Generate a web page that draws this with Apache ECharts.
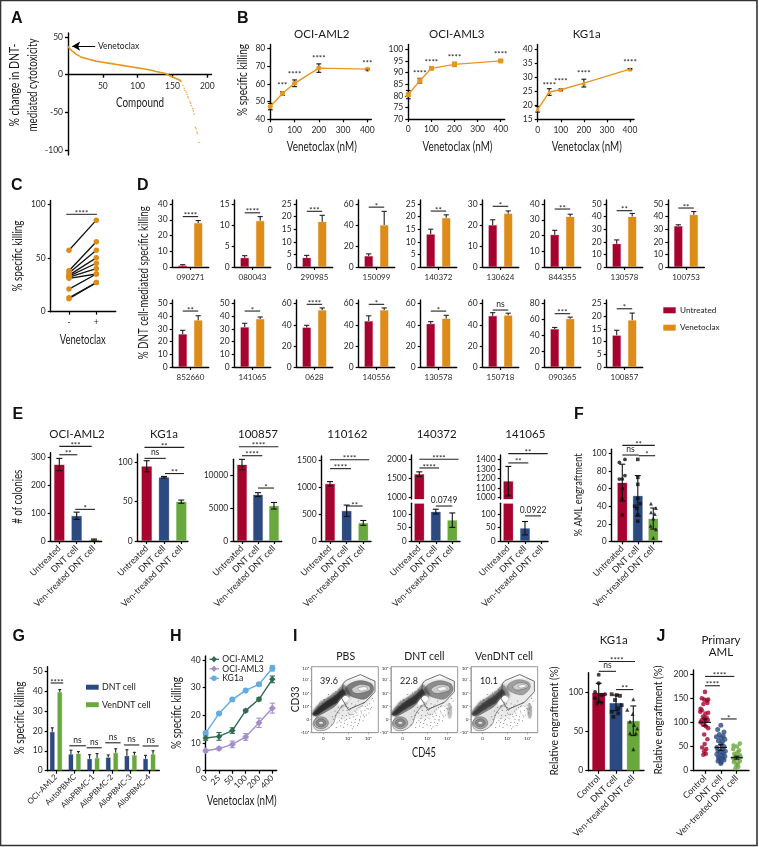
<!DOCTYPE html>
<html><head><meta charset="utf-8"><style>html,body{margin:0;padding:0;background:#fff}#c{width:759px;height:847px}</style>
<script src="https://cdn.jsdelivr.net/npm/echarts@6/dist/echarts.min.js"></script></head><body><div id="c"></div>
<script>
// ---------- data ----------
const A_compound=[0,2,5,8,12,16,20,30,40,50,60,70,80,90,100,110,120,125,130,135,140,145,150,155,160,163];
const A_change=[38,35,32,30,27,25,23,20.5,18,16.5,15,13.5,12,10.5,9,7.5,6,4.5,3.5,2.5,1.5,-1,-3,-5,-7,-9];
const A_tail_x=[165,167,168,170,171,172,173,175,176,177,179,180,181,183,184,185,186,188];
const A_tail_y=[-14,-18,-21,-23,-26,-29,-31,-36,-38,-41,-45,-48,-52,-70,-72,-76,-78,-90];
const B_doses=[0,50,100,200,400];
const B_aml2=[47.2,54.6,60.4,69,68.4], B_aml2_err=[1.8,1,1.9,2.4,.3];
const B_aml3=[80.5,86.5,91.8,93.5,95], B_aml3_err=[1.8,1,.3,.9,.3];
const B_kg1a=[18.6,24.8,25.6,28,33], B_kg1a_err=[1,1.2,.3,1.4,.2];
const C_minus=[57,38,36,34,33,32,31,21,13,12];
const C_plus=[85,65,57,50,45,40,35,35,27,27];
const D_row1_ids=['090271','080043','290985','150099','140372','130624','844355','130578','100753'];
const D_row1_ut=[1,2.2,3.7,10.5,13,20,20.5,18.5,32.5], D_row1_ut_err=[.5,.5,.9,2,2,2.5,2.8,3,1];
const D_row1_ve=[28,11,18,40,19.5,25.5,32,40,41.5], D_row1_ve_err=[1.5,1,2.5,13,1.2,1.2,1.5,2.5,2.5];
const D_row1_sig=['****','****','***','*','**','*','**','**','**'], D_row1_sigy=[32,12.9,22.1,57,22.2,28.9,36.8,44.7,46.8];
const D_row1_ticks=[40,15,25,60,25,30,40,50,50], D_row1_step=[10,5,5,20,5,10,10,10,10];
const D_row2_ids=['852660','141065','0628','140556','130578','150718','090365','100857'];
const D_row2_ut=[26,31.5,37.5,43.5,41,48.5,48,12.5], D_row2_ut_err=[3,3,2,5,2,3,2,2];
const D_row2_ve=[37,38,54,54,46,49,61,18.5], D_row2_ve_err=[3.5,1.5,2,2,3,2,2,2.8];
const D_row2_sig=['**','*','****','*','*','ns','***','*'], D_row2_sigy=[44.2,44.2,59.4,59.4,53,54,67.4,23];
const D_row2_ticks=[50,50,60,60,60,60,80,25], D_row2_step=[10,10,20,20,20,20,20,5];
const E_groups=['Untreated','DNT cell','Ven-treated DNT cell'];
const E_titles=['OCI-AML2','KG1a','100857','110162','140372','141065'];
const E_aml2=[273,90,5], E_aml2_err=[22,13,2];
const E_kg1a=[95,81,50], E_kg1a_err=[7,1,2];
const E_100857=[11700,7100,5400], E_100857_err=[800,300,500];
const E_110162=[1060,560,335], E_110162_err=[40,105,45];
const E_140372=[1610,110,78], E_140372_err=[60,9,27];
const E_141065=[1170,48,0], E_141065_err=[155,25,0];
const F_means=[67,52,26], F_err=[21,23,12];
const F_ut_y=[90,93.5,71,71,75,60,48,30], F_ut_x=[-.19,.17,-.19,0,.17,0,-.02,0];
const F_dn_y=[93.5,73,65,49,40,43,37.6,30,23], F_dn_x=[0,0,0,0,-.2,.15,-.06,0,0];
const F_ve_y=[43,33,38,26,17.5,13.7,4,31], F_ve_x=[-.15,-.15,.17,0,-.17,.17,0,.1];
const G_cats=['OCI-AML2','AutoPBMC','AlloPBMC-1','AlloPBMC-2','AlloPBMC-3','AlloPBMC-4'];
const G_dnt=[19.5,8.3,6,6.7,7.5,6], G_dnt_err=[2,2,2,1.2,3,1.7];
const G_ven=[39.5,8.6,6.4,9,7.8,8.3], G_ven_err=[1.2,1,2.2,2,1.4,1.7];
const H_doses=['0','25','50','100','200','400'];
const H_aml2=[11.8,12.4,14.5,21.7,25.8,33], H_aml2_err=[.8,1.4,1,.5,.6,1.2];
const H_aml3=[7.2,8,9.5,12.2,17.3,22.6], H_aml3_err=[.5,.5,1.2,1.2,1.7,1.8];
const H_kg1a=[13.6,20.7,25.7,29,31.2,37], H_kg1a_err=[.5,.3,.3,.2,.5,1];
const I_groups=['Control','DNT cell','Ven-treated DNT cell'];
const I_means=[100,87,64], I_err=[12,10,19];
const I_ct_y=[123,112,101,97,98,93,88.5,87,86], I_ct_x=[0,0,-.21,.17,.37,-.21,0,.17,-.1];
const I_dn_y=[98,97,96,90.6,84,80,75.6,69,73.5], I_dn_x=[-.25,.04,.23,-.06,.33,.13,-.25,-.15,.13];
const I_ve_y=[91.5,78,72.6,63,58.5,54,48,48,27.4], I_ve_x=[0,-.35,-.04,-.19,.04,.23,-.19,.15,0];
const J_groups=['Control','DNT cell','Ven-treated DNT cell'];
const J_means=[100,48,27], J_err=[7,6,3];
const J_ct_y=[163,150,147,147,145,140,138,128,125,122,120,118,112,110,108,105,104,102,100,95,92,88,75,65,55,48,45,40,35,33];
const J_ct_x=[0,-.2,-.05,.2,.12,.15,-.1,-.28,-.2,-.3,.2,.02,-.12,.1,-.05,.18,-.22,.02,-.28,-.12,.05,.2,-.05,.15,-.02,-.18,.08,-.05,.05,-.1];
const J_dn_y=[94,85,80,75,72,70,68,65,62,60,55,50,48,45,42,40,38,36,34,32,30,28,26,24,22,20,18,15];
const J_dn_x=[0,-.2,.2,-.1,.15,-.28,.02,.25,-.15,.1,0,.2,-.25,.12,-.18,.28,-.05,.15,-.25,.05,.25,-.15,.12,-.08,.2,-.18,.02,0];
const J_ve_y=[56,52,50,45,42,38,35,32,30,28,26,25,22,20,18,15,12,8,5];
const J_ve_x=[.2,-.2,.02,-.22,.15,.05,-.15,.2,-.05,.25,-.22,.08,-.12,.2,-.18,.08,-.02,.1,-.08];
// flow-cytometry contour shapes, in percent of each plot frame
const I_titles=['PBS','DNT cell','VenDNT cell'], I_pct=['39.6','22.8','10.1'];
const F_xticks=[17.5,55,85], F_xlabels=['0','10³','10⁵'];
const F_yticks=[0,20,40,60,80,98], F_ylabels=['-10²','0','10²','10³','10⁴','10⁵'];
const Flow_gate=[[47,74],[51,79],[73,88],[95,78],[95,62],[80,46],[55,35],[45,52]];
const Flow_haze=[[2,30],[12,44],[25,54],[38,64],[50,78],[92,80],[90,50],[72,36],[55,22],[42,20],[30,26],[12,30]];
const Flow_wide=[[1,30],[12,45],[26,55],[38,63],[48,73],[58,58],[50,42],[38,35],[24,31],[8,24]];
const Flow_band=[[1,28],[20,46],[35,56],[47,66],[52,54],[40,46],[30,41],[17,33],[7,26]];
const Flow_drop=[[2,13],[7,23],[20,31],[32,38],[42,46],[45,41],[37,28],[32,13],[20,4],[7,4]];
const Flow_wedge=[[40,44],[50,56],[56,52],[48,43]];
const Flow_upper=[[50,66],[57,74],[73,79],[90,74],[93,64],[80,51],[65,53],[55,58]];
const Flow_mid=[[60,66],[72,73],[86,71],[88,65],[75,60],[65,60]];
const Flow_core=[[69,67],[80,70],[84,66],[74,63]];
const Flow_rings=[[14,15,11,9,'#a8a8a8'],[14,15,7.5,6,'#8a8a8a'],[14,15,3.5,2.5,'#e0e0e0']];
const Flow_dark=[.72,.62,.5], Flow_side=[0,.22,.28];
const Flow_specks_x=[30,33,36,38,41,43,45,47,50,52,54,55,57,58,60,62,63,65,66,68,70,71,73,75,77,80,82,35,40,44,48,51,56,59,61,64,67,69,72,76,79,84,86,90,93,28,24,20,15,10,8,6,12,18,26,34,42,46,53,88,31,37,39,42,46,49,52,53,57,59,61,65,68,72,74,78,81,85,34,38,43,47,50,55,60,63,66,70,74,78,83,87,91,22,16,11,5,3,9,14,19,25,29,32,36,41];
const Flow_specks_y=[12,20,26,15,30,10,22,34,18,26,12,30,22,36,16,28,9,33,20,26,14,38,24,30,18,34,27,33,38,16,8,40,34,28,6,40,30,11,20,41,24,42,30,38,48,44,48,42,38,33,30,32,45,50,52,56,58,62,44,36,24,8,31,18,26,14,20,34,28,11,38,16,36,18,33,27,40,36,48,52,54,60,46,38,44,24,42,48,40,45,37,44,52,36,44,40,30,27,38,48,50,58,50,60,62,66];
// ---------- layout helpers ----------
const INK='#1a1a1a', RED='#a6032f', ORANGE='#dd8c18', LINE='#e8961e', BLUE='#2c4a80', GREEN='#69a83d', F='Lato', N='Lato';
const grids=[],xAxes=[],yAxes=[],series=[],graphic=[];
const meas=document.createElement('canvas').getContext('2d');
function T(text,x,y,o={}){const size=o.size||9,fam=o.fam||F,w=o.w;const font=(o.weight||'normal')+' '+size+'px '+fam;meas.font=font;
 const sx=w?w/meas.measureText(text).width:1;
 graphic.push({type:'text',x,y,rotation:o.rot?Math.PI/2:0,scaleX:sx,silent:true,z:20,style:{text,x:0,y:0,align:o.align||'center',verticalAlign:'middle',font,fill:o.color||INK}});}
function rectG(x,y,w,h,c){graphic.push({type:'rect',silent:true,z:20,shape:{x,y,width:w,height:h},style:{fill:c}});}
function cal(c,a,b){const m=(c[2]-c[0])/(c[3]-c[1]);return [c[0]+(a-c[1])*m,c[0]+(b-c[1])*m];}
function axisOf(o){return {type:'value',gridIndex:o.i,min:o.range[0],max:o.range[1],position:o.pos,scale:true,offset:o.offset||0,
 axisLine:{show:o.line!==false,onZero:false,lineStyle:{color:o.color||'#000',width:o.lw||1.4}},
 axisTick:{show:o.line!==false,customValues:o.ticks,length:o.tl||3,inside:false,lineStyle:{color:o.color||'#000',width:o.lw||1.2}},
 splitLine:{show:false},
 axisLabel:{show:o.line!==false,customValues:o.ticks,hideOverlap:false,rotate:o.rotate||0,margin:o.margin||5,fontSize:o.fs||8.5,color:o.lc||'#2a2a2a',fontFamily:F,
  formatter:v=>{if(!o.labels)return String(v);let k=0;o.ticks.forEach((t,j)=>{if(Math.abs(t-v)<Math.abs(o.ticks[k]-v))k=j;});return o.labels[k];}}};}
function panel(c){const i=grids.length;grids.push({left:c.l,top:c.t,width:c.r-c.l,height:c.b-c.t,show:!!c.frame,borderColor:'#999',borderWidth:1,backgroundColor:'transparent'});
 xAxes.push(axisOf({i,pos:'bottom',range:cal(c.xc,c.l,c.r),ticks:c.xt,labels:c.xl,rotate:c.rot,line:c.hideX?false:true,offset:c.xoff,margin:c.xm,fs:c.xf,lw:c.lw,color:c.ac,tl:c.tl}));
 yAxes.push(axisOf({i,pos:'left',range:cal(c.yc,c.b,c.t),ticks:c.yt,labels:c.yl,margin:c.ym,fs:c.yf,lw:c.lw,color:c.ac,tl:c.tl}));return i;}
const on=i=>({xAxisIndex:i,yAxisIndex:i});
function bars(i,xs,ys,colors,w){series.push({type:'bar',...on(i),barWidth:w,silent:true,z:3,data:xs.map((x,k)=>({value:[x,ys[k]],itemStyle:{color:colors[k],borderColor:colors[k]+'55',borderWidth:ys[k]>0?.8:0}}))});}
function errs(i,xs,ys,es,o={}){series.push({type:'custom',...on(i),silent:true,z:o.z||6,encode:{x:0,y:[1,2]},data:xs.map((x,k)=>[x,o.upOnly?ys[k]:ys[k]-es[k],ys[k]+es[k],ys[k]]).filter(d=>d[1]!==d[2]),
 renderItem:(p,api)=>{const x=api.value(0),a=api.coord([x,api.value(1)]),b=api.coord([x,api.value(2)]),cw=o.cap||2.5,st={stroke:o.color||'#111',lineWidth:o.lw||1.1};
  const ch=[{type:'line',shape:{x1:a[0],y1:a[1],x2:b[0],y2:b[1]},style:st},{type:'line',shape:{x1:b[0]-cw,y1:b[1],x2:b[0]+cw,y2:b[1]},style:st}];
  if(!o.upOnly)ch.push({type:'line',shape:{x1:a[0]-cw,y1:a[1],x2:a[0]+cw,y2:a[1]},style:st});
  if(o.mean){const m=api.coord([x,api.value(3)]);ch.push({type:'line',shape:{x1:m[0]-o.mean,y1:m[1],x2:m[0]+o.mean,y2:m[1]},style:st});}
  return {type:'group',children:ch};}});}
// sig: [x1,x2,y,label]; x1==x2 draws the label only
function sig(i,list,o={}){series.push({type:'custom',...on(i),silent:true,z:8,encode:{x:[0,1],y:2},data:list.map(s=>[s[0],s[1],s[2]]),
 renderItem:(p,api)=>{const s=list[p.dataIndex],a=api.coord([s[0],s[2]]),b=api.coord([s[1],s[2]]),isStar=/^\*+$/.test(s[3]);const ch=[];
  if(s[0]!==s[1])ch.push({type:'line',shape:{x1:a[0],y1:a[1],x2:b[0],y2:b[1]},style:{stroke:o.color||'#222',lineWidth:o.lw||1.1}});
  ch.push({type:'text',style:{text:s[3],x:(a[0]+b[0])/2,y:a[1]+(isStar?(o.so!==undefined?o.so:3):-1.5),align:'center',verticalAlign:'bottom',font:(isStar?8:(o.fs||8.5))+'px '+F,fill:'#222'}});
  return {type:'group',children:ch};}});}
function pts(i,xs,ys,color,sym,size,base){series.push({type:'scatter',...on(i),silent:true,clip:false,z:5,symbol:sym,symbolSize:size,itemStyle:{color},data:ys.map((y,k)=>[base+xs[k],y])});}
function ticks(top,step){const r=[];for(let v=0;v<=top;v+=step)r.push(v);return r;}
// ---------- frame & letters ----------
graphic.push({type:'rect',silent:true,z:0,shape:{x:.5,y:.5,width:756.5,height:845},style:{fill:'none',stroke:'#333',lineWidth:1.6}});
[['A',11,19],['B',237,19],['C',11,186],['D',137,186],['E',12.5,415],['F',574,415],['G',12.5,637],['H',170,637],['I',293,637],['J',656.5,637]].forEach(a=>T(a[0],a[1],a[2],{size:16,fam:'"Liberation Sans"',weight:'bold',align:'left',color:'#111'}));
// ---------- A ----------
{const i=panel({l:68,r:211.5,t:33,b:155,xc:[0,68,200,207.3],yc:[0,74.7,50,37],xt:[50,100,150,200],yt:[-100,-50,0,50],xoff:-(155-74.7),xm:7,lw:1.4});
 series.push({type:'line',...on(i),symbol:'none',silent:true,z:4,lineStyle:{color:LINE,width:1.6},data:A_compound.map((x,k)=>[x,A_change[k]])});
 series.push({type:'scatter',...on(i),symbolSize:1.6,silent:true,z:4,itemStyle:{color:LINE},data:A_tail_x.map((x,k)=>[x,A_tail_y[k]])});
 series.push({type:'line',...on(i),symbol:'none',silent:true,z:4,lineStyle:{width:0},data:[],markLine:{silent:true,animation:false,label:{show:false},symbol:['none','arrow'],symbolSize:[7,8],lineStyle:{color:'#000',width:1,type:'solid'},data:[[{coord:[39,37.8]},{coord:[6,37.8]}]]}});
 T('Venetoclax',98,46,{size:8.5,align:'left'});
 T('Compound',140,103,{fam:N,size:13,w:48});
 T('% change in DNT-',15,85,{fam:N,size:12.5,rot:1,w:83});T('mediated cytotoxicity',33,85,{fam:N,size:12.5,rot:1,w:93});}
// ---------- B ----------
function bPanel(l,x400,title,tx,yc,yt,data,err,sym,sz,stars){const i=panel({l,r:x400+4,t:44.5,b:yc[1],xc:[0,l,400,x400],yc,xt:[0,100,200,300,400],yt,xm:6});
 T(title,tx,34,{size:11.5});T('Venetoclax (nM)',(l+x400)/2+3,146.5,{fam:N,size:13,w:70});
 errs(i,B_doses,data,err,{cap:2.4,z:3});
 series.push({type:'line',...on(i),silent:true,z:4,symbol:sym,symbolSize:sz,itemStyle:{color:LINE},lineStyle:{color:LINE,width:1.4},data:B_doses.map((d,k)=>[d,data[k]])});
 sig(i,stars);}
bPanel(270.3,367.3,'OCI-AML2',321.7,[40,119.3,80,48.7],[40,50,60,70,80],B_aml2,B_aml2_err,'circle',5,[[50,50,58.4,'***'],[100,100,64.8,'****'],[200,200,73.7,'****'],[400,400,71.1,'***'],[400,400,65.8,'*']]);
bPanel(408.3,500.7,'OCI-AML3',456.7,[70,119,100,49.3],[70,75,80,85,90,95,100],B_aml3,B_aml3_err,'rect',5,[[50,50,89,'****'],[100,100,94.1,'****'],[200,200,96,'****'],[400,400,97.4,'****']]);
bPanel(537.7,630,'KG1a',586.7,[15,119.3,40,49.7],[15,20,25,30,35,40],B_kg1a,B_kg1a_err,'triangle',4.5,[[50,50,26.8,'****'],[100,100,28.4,'****'],[200,200,31.1,'****'],[400,400,34.9,'****']]);
T('% specific killing',243,80,{fam:N,size:13,rot:1,w:72});
// ---------- C ----------
{const i=panel({l:50.7,r:115.7,t:200.5,b:311.7,xc:[0,69,1,96.3],yc:[0,311.7,100,204],xt:[0,1],xl:['-','+'],yt:[0,50,100],xm:6});
 C_minus.forEach((v,k)=>series.push({type:'line',...on(i),silent:true,z:4,symbol:'circle',symbolSize:5.5,itemStyle:{color:ORANGE},lineStyle:{color:'#111',width:1.3},data:[[0,v],[1,C_plus[k]]]}));
 sig(i,[[-.1,1.02,90.4,'****']],{color:'#333'});
 T('Venetoclax',82.7,340,{fam:N,size:13,w:46});T('% specific killing',18,256,{fam:N,size:13,rot:1,w:71});}
// ---------- D ----------
function dRow(ls,ids,ut,utE,ve,veE,sg,sy,tops,steps,yTop,yZero){ids.forEach((id,k)=>{const l=ls[k];
 const i=panel({l,r:l+36,t:yZero-67,b:yZero,xc:[0,l+10,1,l+25.5],yc:[0,yZero,tops[k],yTop],xt:[.5],xl:[id],yt:ticks(tops[k],steps[k]),xm:6,xf:8});
 bars(i,[0,1],[ut[k],ve[k]],[RED,ORANGE],8.6);errs(i,[0,1],[ut[k],ve[k]],[utE[k],veE[k]],{upOnly:true,cap:2.6,color:'#222'});sig(i,[[0,1,sy[k],sg[k]]]);});}
const D_lefts=[172.7,234.7,296.7,358.7,420.7,482.7,544.7,606.7,668.3];
dRow(D_lefts,D_row1_ids,D_row1_ut,D_row1_ut_err,D_row1_ve,D_row1_ve_err,D_row1_sig,D_row1_sigy,D_row1_ticks,D_row1_step,204,267);
dRow(D_lefts,D_row2_ids,D_row2_ut,D_row2_ut_err,D_row2_ve,D_row2_ve_err,D_row2_sig,D_row2_sigy,D_row2_ticks,D_row2_step,303.7,367);
T('% DNT cell-mediated specific killing',144,282.7,{fam:N,size:13,rot:1,w:153});
rectG(663.3,307.3,12.4,6,RED);rectG(663.3,324.7,12.4,6,ORANGE);T('Untreated',680,310.3,{size:8.2,align:'left'});T('Venetoclax',680,327.7,{size:8.2,align:'left'});
// ---------- E ----------
const C3=[RED,BLUE,GREEN];
function ePanel(o){const b=o.b||541;const i=panel({l:o.l,r:o.r,t:o.t,b,xc:[0,o.x0,2,o.x2],yc:o.yc,xt:[0,1,2],xl:o.labels||E_groups,rot:45,yt:o.yt,xm:6,xf:8.9});
 bars(i,[0,1,2],o.v,C3,o.w||10);errs(i,[0,1,2],o.v,o.e,{cap:3});if(o.sig)sig(i,o.sig);return i;}
ePanel({l:50.7,r:101.7,t:452.7,x0:59.3,x2:94,yc:[0,541,300,457],yt:[0,100,200,300],v:E_aml2,e:E_aml2_err,sig:[[0,1.87,338,'***'],[0,1.04,308,'**'],[.92,2.06,113,'*']],w:10.6});
ePanel({l:137.7,r:188,t:454,x0:146.7,x2:181.3,yc:[0,541,100,462.3],yt:[0,50,100],v:E_kg1a,e:E_kg1a_err,sig:[[-.13,2.17,119,'**'],[-.13,1.1,105,'ns'],[1.06,2.15,85.7,'**']],w:10.6});
ePanel({l:233.3,r:281.7,t:459.3,x0:242,x2:274,yc:[0,541,10000,475.7],yt:[0,5000,10000],v:E_100857,e:E_100857_err,sig:[[-.19,2.27,14440,'****'],[0,1.27,13060,'****'],[1,2,8110,'*']]});
ePanel({l:321.7,r:371,t:456,x0:330,x2:363.3,yc:[0,541,1500,460],yt:[0,500,1000,1500],v:E_110162,e:E_110162_err,sig:[[0,2.36,1506,'****'],[0,1.26,1340,'****'],[1,1.96,648,'**']]});
function eBroken(o){const up=panel({l:o.l,r:o.r,t:o.tu,b:499,xc:[0,o.x0,2,o.x2],yc:[1000,497.3,o.uTop,459.3],xt:[],yt:o.ut,hideX:true});
 const lowV=o.v.map((v,k)=>v>141?141:v);
 bars(up,[0],[o.v[0]],[RED],10);errs(up,[0],[o.v[0]],[o.e[0]],{cap:3});sig(up,o.sigU);
 const lo=panel({l:o.l,r:o.r,t:503.3,b:541,xc:[0,o.x0,2,o.x2],yc:[0,541,100,514.3],xt:[0,1,2],xl:E_groups,rot:45,yt:[0,50,100],xm:6,xf:8.9});
 bars(lo,[0,1,2],lowV,C3,10);errs(lo,[1,2],o.v.slice(1),o.e.slice(1),{cap:3});sig(lo,o.sigL);}
eBroken({l:411.7,r:460,tu:455,x0:419.3,x2:452.3,uTop:2000,ut:[1000,1500,2000],v:E_140372,e:E_140372_err,sigU:[[0,2.38,2000,'****'],[0,1.2,1772,'****']],sigL:[[1,2,131,'0.0749']]});
eBroken({l:500.7,r:548,tu:455,x0:508.3,x2:541.7,uTop:1400,ut:[1000,1100,1200,1300,1400],v:E_141065,e:E_141065_err,sigU:[[0,2.36,1460,'**'],[0,1.2,1362,'**']],sigL:[[1,1.96,94,'0.0922']]});
[77,164,258,347.3,436.7,525.3].forEach((x,k)=>T(E_titles[k],x,434,{size:11.5}));
T('# of colonies',18,496.7,{fam:N,size:13,rot:1,w:54});
// ---------- F ----------
{const i=ePanel({l:611.7,r:661.7,t:449.3,b:541.3,x0:622.3,x2:653.3,yc:[0,541.3,100,453.7],yt:[0,20,40,60,80,100],v:F_means,e:F_err,sig:[[0,2.1,109.5,'**'],[0,1.06,98.5,'ns'],[1.06,2.12,97.7,'*']]});
 pts(i,F_ut_x,F_ut_y,'#111','circle',3.8,0);pts(i,F_dn_x,F_dn_y,'#111','rect',3.6,1);pts(i,F_ve_x,F_ve_y,'#111','triangle',3.8,2);
 T('% AML engraftment',579,495,{fam:F,size:10.5,rot:1,w:83});}
// ---------- G ----------
{const xs=G_cats.map((_,k)=>k);const i=panel({l:47.7,r:159.3,t:666.7,b:770.7,xc:[0,56,5,149.3],yc:[0,770.7,50,671],xt:xs,xl:G_cats,rot:45,yt:[0,10,20,30,40,50],xm:5,xf:8});
 bars(i,xs.map(k=>k-.2).concat(xs.map(k=>k+.2)),G_dnt.concat(G_ven),xs.map(()=>BLUE).concat(xs.map(()=>GREEN)),5);
 errs(i,xs.map(k=>k-.2),G_dnt,G_dnt_err,{upOnly:true,cap:1.5,color:'#222'});errs(i,xs.map(k=>k+.2),G_ven,G_ven_err,{upOnly:true,cap:1.5,color:'#222'});
 sig(i,[[-.29,.39,44,'****'],[.71,1.6,12.5,'ns'],[1.64,2.45,11.5,'ns'],[2.64,3.46,14,'ns'],[3.64,4.46,12.9,'ns'],[4.64,5.5,12.4,'ns']]);
 T('% specific killing',20,718,{fam:N,size:13,rot:1,w:73});
 rectG(86,684.7,12.7,5,BLUE);rectG(86,702.2,12.7,5,GREEN);T('DNT cell',102,687,{size:8.8,align:'left'});T('VenDNT cell',102,704.7,{size:8.8,align:'left'});}
// ---------- H ----------
{const xs=H_doses.map((_,k)=>k);const i=panel({l:205.7,r:276.7,t:656,b:770.7,xc:[0,205.7,5,272.3],yc:[0,770.7,40,660],xt:xs,xl:H_doses,rot:45,yt:[0,10,20,30,40],xm:6,xf:8.4});
 const S=[[H_aml3,H_aml3_err,'#a28fca','diamond',7],[H_kg1a,H_kg1a_err,'#62abe3','circle',6],[H_aml2,H_aml2_err,'#2f6b50','diamond',6.5]];
 S.forEach(s=>{series.push({type:'line',...on(i),silent:true,z:4,symbol:s[3],symbolSize:s[4],itemStyle:{color:s[2]},lineStyle:{color:s[2],width:1.4},data:xs.map(k=>[k,s[0][k]])});errs(i,xs,s[0],s[1],{color:s[2],cap:2.6,z:4});});
 const leg=[['OCI-AML2','#2f6b50','diamond',659.3],['OCI-AML3','#a28fca','diamond',668.8],['KG1a','#62abe3','circle',678.3]];
 leg.forEach(l=>{graphic.push({type:'line',silent:true,z:20,shape:{x1:209.5,y1:l[3],x2:219,y2:l[3]},style:{stroke:l[1],lineWidth:1.3}});
  if(l[2]==='circle')graphic.push({type:'circle',silent:true,z:20,shape:{cx:214,cy:l[3],r:2.7},style:{fill:l[1]}});
  else graphic.push({type:'polygon',silent:true,z:20,shape:{points:[[214,l[3]-3.2],[216.8,l[3]],[214,l[3]+3.2],[211.2,l[3]]]},style:{fill:l[1]}});
  T(l[0],222.3,l[3],{size:8.6,align:'left'});});
 T('% specific killing',177.3,713,{fam:N,size:13,rot:1,w:72});T('Venetoclax (nM)',241.7,801,{fam:N,size:13,w:70});}
// ---------- I flow plots ----------
const polys=[[Flow_haze,'#a8a8a8',.13,null],[Flow_wide,'#555555',.4,null],[Flow_band,'#222222',1,null],[Flow_upper,'#3a3a3a',.85,'#444'],[Flow_mid,'#cccccc',1,'#555'],[Flow_core,'#f4f4f4',1,'#777'],[Flow_drop,'#e2e2e2',1,'#444'],[Flow_wedge,'#ffffff',1,null]];
const FULL=[Flow_band,Flow_wide,Flow_drop,Flow_haze,Flow_wedge];
[[311.7,378.3],[391,457.7],[471,537.7]].forEach((f,p)=>{const i=panel({l:f[0],r:f[1],t:666.7,b:732.7,frame:true,xc:[0,f[0],100,f[1]],yc:[0,732.7,100,666.7],xt:F_xticks,xl:F_xlabels,yt:F_yticks,yl:F_ylabels,xf:4.6,yf:4.6,xm:3,ym:2.5,ac:'#999',lw:.8,tl:1.5});
 series.push({type:'custom',...on(i),silent:true,z:2,encode:{x:0,y:1},data:polys.map((_,k)=>[k,k]),renderItem:(q,api)=>{const s=polys[q.dataIndex],sc=(p===2&&!FULL.includes(s[0]))?.82:1;
   const c=s[0].reduce((a,v)=>[a[0]+v[0]/s[0].length,a[1]+v[1]/s[0].length],[0,0]);
   const points=s[0].map(v=>api.coord([c[0]+(v[0]-c[0])*sc,c[1]+(v[1]-c[1])*sc+(sc<1?4:0)]));
   const o=s[0]===Flow_band?Flow_dark[p]:(s[0]===Flow_upper?s[2]*Flow_dark[p]:s[2]);
   return {type:'polygon',shape:{points,smooth:.3},style:{fill:s[1],opacity:o,stroke:s[3]||undefined,lineWidth:s[3]?.5:0,shadowBlur:s[3]?0:3,shadowColor:s[1]}};}});
 series.push({type:'scatter',...on(i),silent:true,z:3,symbolSize:1,itemStyle:{color:'#333',opacity:.7},data:Flow_specks_x.map((x,k)=>[x,Flow_specks_y[k]])});
 series.push({type:'custom',...on(i),silent:true,z:4,encode:{x:0,y:1},data:Flow_rings.map(r=>[r[0],r[1]]),renderItem:(q,api)=>{const r=Flow_rings[q.dataIndex],c=api.coord([r[0],r[1]]),sz=api.size([1,1]);return {type:'ellipse',shape:{cx:c[0],cy:c[1],rx:r[2]*sz[0],ry:r[3]*sz[1]},style:{fill:r[4],stroke:'#555',lineWidth:.5}};}});
 if(Flow_side[p])series.push({type:'custom',...on(i),silent:true,z:2,encode:{x:0,y:1},data:[[88,33]],renderItem:(q,api)=>{const c=api.coord([88,33]),sz=api.size([1,1]);return {type:'ellipse',shape:{cx:c[0],cy:c[1],rx:3.5*sz[0],ry:12*sz[1]},style:{fill:'#555',opacity:Flow_side[p],shadowBlur:2,shadowColor:'#555'}};}});
 series.push({type:'line',...on(i),silent:true,z:5,symbol:'none',lineStyle:{color:'#333',width:.7},data:Flow_gate.concat([Flow_gate[0]])});
 T(I_titles[p],[345.7,424.3,504][p],656.7,{size:10.5});T(I_pct[p],[329,409,489][p],681,{size:9});});
T('CD33',295,699.3,{size:11.5,rot:1,fam:N,w:26});T('CD45',424,753,{fam:N,size:13,w:24});
// ---------- I bars ----------
{const i=ePanel({l:588.3,r:644,t:672.7,b:770.7,x0:598.7,x2:633.3,yc:[0,770.7,100,692.7],yt:[0,50,100],v:I_means,e:I_err,labels:I_groups,w:13.2,sig:[[0,2.1,140,'****'],[0,1,127.4,'ns'],[1,2,104,'**']]});
 pts(i,I_ct_x,I_ct_y,'#111','circle',4,0);pts(i,I_dn_x,I_dn_y,'#111','rect',3.8,1);pts(i,I_ve_x,I_ve_y,'#111','triangle',4,2);
 T('KG1a',613.7,640,{size:11.5});T('Relative engraftment (%)',555,721,{fam:F,size:10.5,rot:1,w:109});}
// ---------- J ----------
{const i=panel({l:693.3,r:749,t:670,b:770.7,xc:[0,705,2,736.7],yc:[0,770.7,200,674],xt:[0,1,2],xl:J_groups,rot:45,yt:[0,50,100,150,200],xm:6,xf:8.9});
 pts(i,J_ct_x,J_ct_y,RED,'circle',4.6,0);pts(i,J_dn_x,J_dn_y,BLUE,'circle',5,1);pts(i,J_ve_x,J_ve_y,GREEN,'circle',4.6,2);
 errs(i,[0,1,2],J_means,J_err,{cap:2.5,mean:6,z:7});
 sig(i,[[0,1.85,195,'****'],[0,.94,175.7,'****'],[1,2,107,'*']]);
 T('Primary',721,640,{size:11.5});T('AML',721,652.7,{size:11.5});T('Relative engraftment (%)',658.7,720,{fam:F,size:10.5,rot:1,w:109});}
// ---------- draw ----------
const chart=echarts.init(document.getElementById('c'),null,{renderer:'canvas'});
chart.setOption({animation:false,backgroundColor:'#fff',textStyle:{fontFamily:F},grid:grids,xAxis:xAxes,yAxis:yAxes,series,graphic:{elements:graphic}});
</script></body></html>
